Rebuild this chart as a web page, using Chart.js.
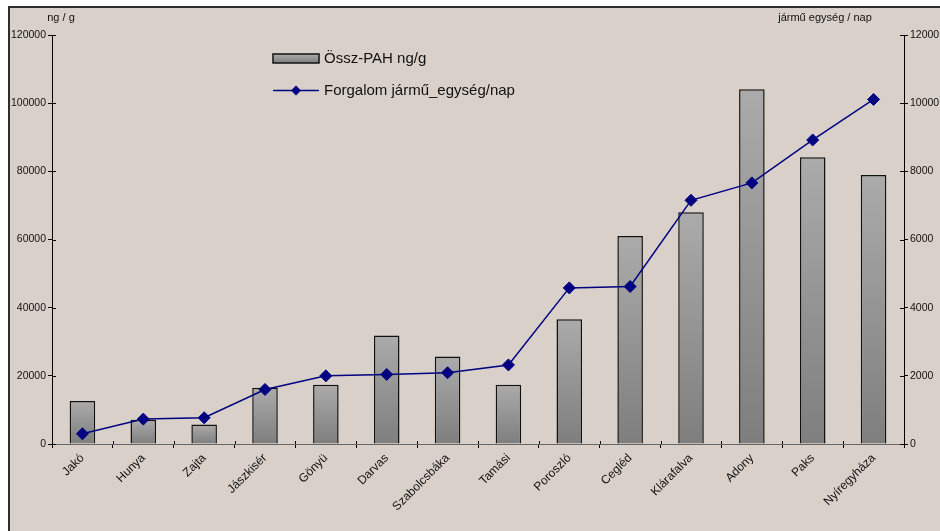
<!DOCTYPE html>
<html lang="hu">
<head>
<meta charset="utf-8">
<title>Össz-PAH és forgalom</title>
<script src="https://cdn.jsdelivr.net/npm/chart.js@4/dist/chart.umd.min.js"></script>
<style>
  html, body { margin: 0; padding: 0; background: #fff; }
  #wrap { width: 940px; height: 531px; }
</style>
</head>
<body>
<div id="wrap"><canvas id="c" width="940" height="531"></canvas></div>
<script>
// Mintavételi helyek
const categories = ['Jakó', 'Hunya', 'Zajta', 'Jászkisér', 'Gönyü', 'Darvas', 'Szabolcsbáka',
  'Tamási', 'Poroszló', 'Cegléd', 'Klárafalva', 'Adony', 'Paks', 'Nyíregyháza'];

// Össz-PAH koncentráció (ng/g)
const pahValues = [12600, 7100, 5700, 16500, 17400, 31800, 25700,
  17400, 36600, 61000, 68000, 104100, 84100, 78900];

// Forgalom (jármű egység / nap)
const trafficValues = [300, 730, 770, 1600, 2000, 2040, 2090,
  2320, 4580, 4620, 7150, 7660, 8920, 10110];

const pahLabel = 'Össz-PAH ng/g';
const trafficLabel = 'Forgalom jármű_egység/nap';
const leftTitle = 'ng / g';
const rightTitle = 'jármű egység / nap';

const FONT = "'Liberation Sans', Arial, sans-serif";
const BG = '#d9d0ca';
const NAVY = '#000080';

function barGradient(c, top, bottom) {
  const g = c.createLinearGradient(0, top, 0, bottom);
  g.addColorStop(0, '#ababab');
  g.addColorStop(1, '#7e7e7e');
  return g;
}

// Frame and panel background
const panelPlugin = {
  id: 'panel',
  beforeDraw(chart) {
    const c = chart.ctx;
    c.save();
    c.fillStyle = '#ffffff';
    c.fillRect(0, 0, chart.width, chart.height);
    c.fillStyle = BG;
    c.fillRect(8, 6, chart.width - 8, chart.height - 6);
    c.strokeStyle = '#2e2e2e';
    c.lineWidth = 2;
    c.beginPath();
    c.moveTo(8, 7); c.lineTo(chart.width, 7);
    c.moveTo(9, 6); c.lineTo(9, chart.height);
    c.stroke();
    c.restore();
  }
};

// Inner halves of the tick marks, axis titles and the legend
const decorPlugin = {
  id: 'decor',
  afterDraw(chart) {
    const c = chart.ctx;
    const { x, y, y1 } = chart.scales;
    const area = chart.chartArea;
    c.save();
    c.strokeStyle = '#000';
    c.lineWidth = 1;
    c.beginPath();
    y.ticks.forEach(t => {
      const py = Math.round(y.getPixelForValue(t.value)) + 0.5;
      c.moveTo(area.left, py); c.lineTo(area.left + 4, py);
    });
    y1.ticks.forEach(t => {
      const py = Math.round(y1.getPixelForValue(t.value)) + 0.5;
      c.moveTo(area.right - 4, py); c.lineTo(area.right, py);
    });
    for (let i = 1; i < categories.length; i++) {
      const px = Math.round((x.getPixelForValue(i - 1) + x.getPixelForValue(i)) / 2) + 0.5;
      c.moveTo(px, area.bottom - 3); c.lineTo(px, area.bottom);
    }
    c.stroke();

    // axis titles
    c.fillStyle = '#111';
    c.font = `11px ${FONT}`;
    c.textAlign = 'center';
    c.textBaseline = 'middle';
    c.fillText(leftTitle, 61, 18);
    c.fillText(rightTitle, 825, 18);

    // legend
    const lx = 273, lw = 46;
    c.fillStyle = barGradient(c, 54, 63);
    c.fillRect(lx, 54, lw, 9);
    c.strokeStyle = '#111';
    c.lineWidth = 1.5;
    c.strokeRect(lx, 54, lw, 9);

    c.strokeStyle = NAVY;
    c.lineWidth = 1.5;
    c.beginPath();
    c.moveTo(lx, 90.5); c.lineTo(lx + lw, 90.5);
    c.stroke();
    c.fillStyle = NAVY;
    c.beginPath();
    c.moveTo(lx + lw / 2, 85.5);
    c.lineTo(lx + lw / 2 + 5, 90.5);
    c.lineTo(lx + lw / 2, 95.5);
    c.lineTo(lx + lw / 2 - 5, 90.5);
    c.closePath();
    c.fill();

    c.fillStyle = '#111';
    c.font = `15px ${FONT}`;
    c.textAlign = 'left';
    c.fillText(pahLabel, 324, 58.5);
    c.fillText(trafficLabel, 324, 90.5);
    c.restore();
  }
};

const tickFont = { family: FONT, size: 10.5 };

new Chart(document.getElementById('c'), {
  data: {
    labels: categories,
    datasets: [
      {
        type: 'line',
        label: trafficLabel,
        data: trafficValues,
        yAxisID: 'y1',
        order: 0,
        borderColor: NAVY,
        borderWidth: 1.5,
        tension: 0,
        pointStyle: 'rectRot',
        pointRadius: 6,
        pointBackgroundColor: NAVY,
        pointBorderColor: NAVY,
        pointBorderWidth: 1
      },
      {
        type: 'bar',
        label: pahLabel,
        data: pahValues,
        yAxisID: 'y',
        order: 1,
        categoryPercentage: 1,
        barPercentage: 0.42,
        borderColor: '#111',
        borderWidth: 1.5,
        backgroundColor(ctx) {
          const chart = ctx.chart;
          const ys = chart.scales.y;
          if (ctx.type !== 'data' || !ys || !chart.chartArea) return '#959595';
          const top = ys.getPixelForValue(ctx.raw);
          const base = ys.getPixelForValue(0);
          return barGradient(chart.ctx, top, base);
        }
      }
    ]
  },
  options: {
    responsive: false,
    animation: false,
    events: [],
    layout: { padding: { top: 35, right: 0, bottom: 0, left: 0 } },
    plugins: {
      legend: { display: false },
      tooltip: { enabled: false },
      title: { display: false }
    },
    scales: {
      x: {
        type: 'category',
        offset: true,
        grid: { display: true, drawOnChartArea: false, offset: true, tickLength: 4, color: '#000', lineWidth: 1 },
        border: { display: true, color: '#666', width: 1 },
        ticks: {
          autoSkip: false,
          maxRotation: 45,
          minRotation: 45,
          padding: 3,
          color: '#111',
          font: { family: FONT, size: 12 }
        },
        afterFit(scale) { scale.height = 87; }
      },
      y: {
        position: 'left',
        min: 0,
        max: 120000,
        grid: { display: true, drawOnChartArea: false, tickLength: 4, color: '#000', lineWidth: 1 },
        border: { display: true, color: '#000', width: 1 },
        ticks: { stepSize: 20000, padding: 2, color: '#111', font: tickFont, callback: v => String(v) },
        afterFit(scale) { scale.width = 52; }
      },
      y1: {
        position: 'right',
        min: 0,
        max: 12000,
        grid: { display: true, drawOnChartArea: false, tickLength: 4, color: '#000', lineWidth: 1 },
        border: { display: true, color: '#000', width: 1 },
        ticks: { stepSize: 2000, padding: 2, color: '#111', font: tickFont, callback: v => String(v) },
        afterFit(scale) { scale.width = 36; }
      }
    }
  },
  plugins: [panelPlugin, decorPlugin]
});
</script>
</body>
</html>
